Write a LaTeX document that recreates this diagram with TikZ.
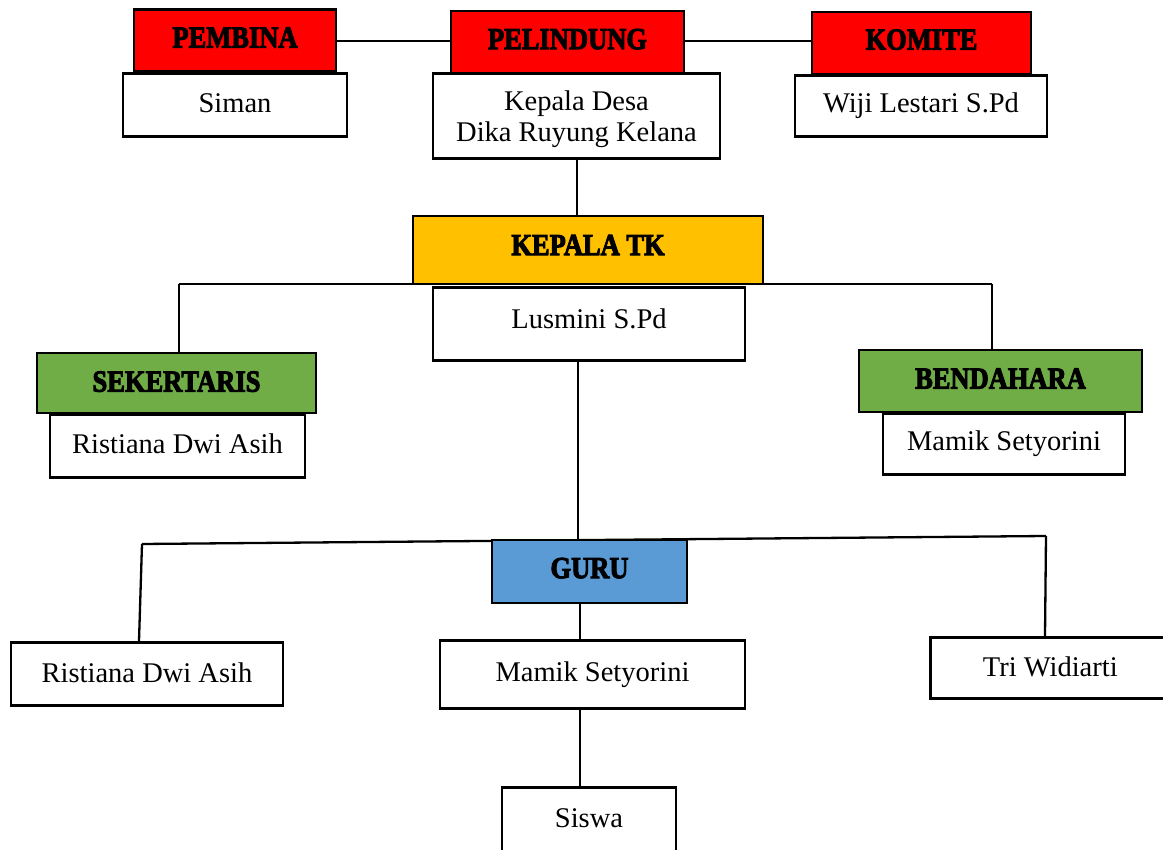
\documentclass[tikz,border=0pt]{standalone}
\usepackage{fontspec}
\usepackage{graphicx}
\setmainfont{Liberation Serif}
\newfontfamily\hdfont{Liberation Serif}[BoldFeatures={FakeBold=3.5}]
\newcommand\hdtext[2][3pt]{\raisebox{#1}{\scalebox{1}[1.15]{#2}}}
\definecolor{hred}{HTML}{FF0000}
\definecolor{horange}{HTML}{FFC000}
\definecolor{hgreen}{HTML}{70AD47}
\definecolor{hblue}{HTML}{5B9BD5}
\tikzset{
  box/.style={draw=black, line width=2.6pt, fill=white, inner sep=0pt, align=center,
    font=\fontsize{28.5}{32}\selectfont},
  head/.style={draw=black, line width=2.6pt, inner sep=0pt, align=center,
    font=\hdfont\bfseries\fontsize{26.5}{28}\selectfont},
  conn/.style={line width=2.3pt}
}
\begin{document}
\begin{tikzpicture}[x=1pt,y=-1pt]
\useasboundingbox (0,0) rectangle (1163,850);
\fill[white] (0,0) rectangle (1163,850);
\coordinate (tl) at (336,41);
\coordinate (bl) at (179,284);
\coordinate (br) at (992,284);
\coordinate (gl) at (142,544);
\coordinate (gr) at (1046,536);
\coordinate (glb) at (139,641);
\coordinate (grb) at (1045,636);

% top row
\node[head, fill=hred, minimum width=202pt, minimum height=62pt] (pembina) at (235,40.5) {\hdtext[6pt]{PEMBINA}};
\node[box, minimum width=224pt, minimum height=63pt, anchor=north] (siman) at (235,72) {\raisebox{3pt}{Siman}};
\node[head, fill=hred, minimum width=233pt, minimum height=62pt] (pelindung) at (567.5,42) {\hdtext[6pt]{PELINDUNG}};
\node[box, minimum width=287pt, minimum height=85pt, anchor=north, text height=41pt, text depth=21pt] (kades) at (576.5,72) {\begin{tabular}{@{}c@{}}Kepala Desa\\[-1pt]Dika Ruyung Kelana\end{tabular}};
\node[head, fill=hred, minimum width=219pt, minimum height=62pt] (komite) at (921.5,43) {\hdtext[7pt]{KOMITE}};
\node[box, minimum width=252pt, minimum height=61pt, anchor=north] (wiji) at (921,74) {Wiji Lestari S.Pd};

\draw[conn] (pembina.east |- tl) -- (pelindung.west |- tl);
\draw[conn] (pelindung.east |- tl) -- (komite.west |- tl);

% kepala TK
\node[head, fill=horange, minimum width=350pt, minimum height=68pt] (ktk) at (588,250) {\hdtext[10pt]{KEPALA TK}};
\draw[conn] (kades.south -| 577,0) -- (ktk.north -| 577,0);
\draw[conn] (bl) -- (br);
\node[box, minimum width=312pt, minimum height=73pt, anchor=north, text height=18pt, text depth=9pt] (lus) at (589,286) {Lusmini S.Pd};

% sekertaris / bendahara
\node[head, fill=hgreen, minimum width=279pt, minimum height=60pt] (sek) at (176.5,383) {\hdtext[3pt]{SEKERTARIS}};
\node[box, minimum width=255pt, minimum height=63pt, anchor=north] (sekn) at (177.5,413) {\raisebox{4pt}{Ristiana Dwi Asih}};
\node[head, fill=hgreen, minimum width=283pt, minimum height=62pt] (bend) at (1000.5,381) {\hdtext[5pt]{BENDAHARA}};
\node[box, minimum width=242pt, minimum height=61pt, anchor=north] (bendn) at (1004,412) {Mamik Setyorini};
\draw[conn] (bl) -- (sek.north -| bl);
\draw[conn] (br) -- (bend.north -| br);

% guru
\draw[conn] (lus.south -| 578,0) -- (578,540);
\draw[conn] (gl) -- (gr);
\draw[conn] (gl) -- (glb);
\draw[conn] (gr) -- (grb);
\node[head, fill=hblue, minimum width=195pt, minimum height=63pt] (guru) at (589.5,571.5) {\hdtext[7pt]{GURU}};
\node[box, minimum width=272pt, minimum height=63pt, anchor=north] (g1) at (147,641) {\raisebox{2pt}{Ristiana Dwi Asih}};
\node[box, minimum width=305pt, minimum height=68pt, anchor=north] (g2) at (592.5,639) {\raisebox{3pt}{Mamik Setyorini}};
\node[box, minimum width=240pt, minimum height=61pt, anchor=north west] (g3) at (929,636) {\raisebox{2pt}{Tri Widiarti}};
\draw[conn] (guru.south -| 580,0) -- (g2.north -| 580,0);

% siswa
\node[box, minimum width=174pt, minimum height=80pt, anchor=north, text height=15pt, text depth=15pt] (siswa) at (589,786) {Siswa};
\draw[conn] (g2.south -| 580,0) -- (siswa.north -| 580,0);
\end{tikzpicture}
\end{document}
